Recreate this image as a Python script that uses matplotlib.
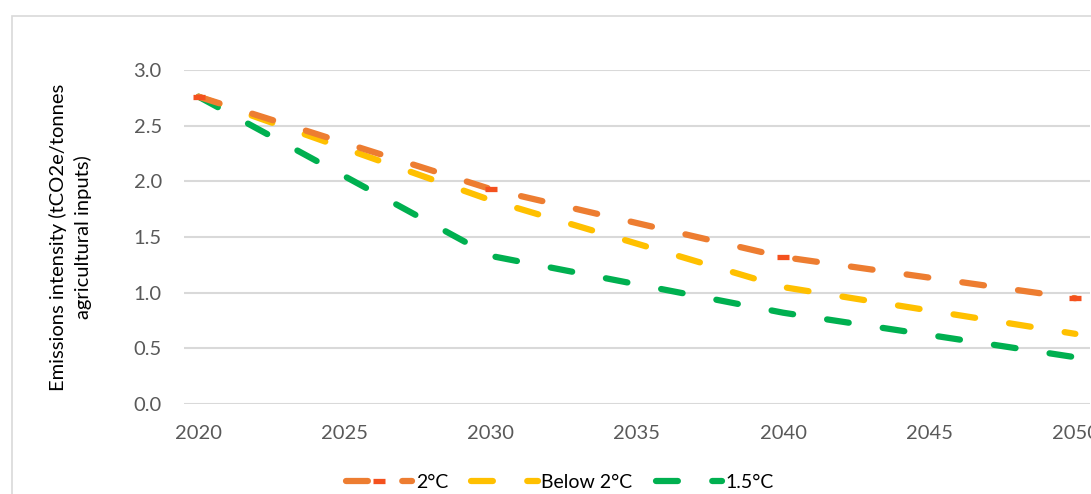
import matplotlib.pyplot as plt
from matplotlib.patches import Rectangle

plt.rcParams['font.family'] = ['Lato', 'DejaVu Sans']

# Emissions intensity pathways (tCO2e per tonne of agricultural inputs)
years = [2020, 2030, 2040, 2050]
two_deg = [2.76, 1.93, 1.32, 0.95]
below_two = [2.76, 1.83, 1.05, 0.63]
one_point_five = [2.76, 1.33, 0.82, 0.42]

xtick_years = [2020, 2025, 2030, 2035, 2040, 2045, 2050]
yticks = [0.0, 0.5, 1.0, 1.5, 2.0, 2.5, 3.0]

orange = "#ED7D31"
red = "#F4511E"
yellow = "#FFC000"
green = "#00B050"
grid = "#D9D9D9"
tick_col = "#595959"

W, H = 1091, 494
fig = plt.figure(figsize=(W / 100, H / 100), dpi=100)

# outer chart frame (runs off the right and bottom edges)
fig.patches.append(Rectangle((12 / W, -0.2), 1.2, 1.2 - 16 / H,
                             transform=fig.transFigure, fill=False,
                             edgecolor=grid, linewidth=1.2, clip_on=False))

ax = fig.add_axes([184 / W, 90 / H, 906 / W, 334 / H])

dash = dict(linewidth=4.5, dashes=(3.5, 5.5), dash_capstyle='round',
            solid_capstyle='round')
ax.plot(years, below_two, color=yellow, label="Below 2°C", zorder=3, **dash)
ax.plot(years, one_point_five, color=green, label="1.5°C", zorder=3, **dash)
ax.plot(years, two_deg, color=orange, zorder=4, marker='_',
        markersize=9, markeredgewidth=3.8, markeredgecolor=red,
        label="2°C", **dash)

ax.set_xlim(2019.5, 2050.5)
ax.set_ylim(0, 3.0)
ax.set_xticks(xtick_years)
ax.set_yticks(yticks)
ax.set_yticklabels([f"{v:.1f}" for v in yticks])
ax.tick_params(length=0, labelsize=14.5, labelcolor=tick_col)
ax.tick_params(axis='x', pad=15)
ax.tick_params(axis='y', pad=16)
ax.grid(axis='y', color=grid, linewidth=1.5)
ax.set_axisbelow(True)
for s in ax.spines.values():
    s.set_visible(False)

ax.set_ylabel("Emissions intensity (tCO2e/tonnes\nagricultural inputs)",
              fontsize=14.5, color="black", labelpad=30, linespacing=1.45)

handles, labels = ax.get_legend_handles_labels()
order = [2, 0, 1]
fig.legend([handles[i] for i in order], [labels[i] for i in order],
           loc='center', bbox_to_anchor=(560 / W, 1 - 482 / H), ncol=3,
           frameon=False, fontsize=14, handlelength=3.4, columnspacing=1.2,
           handletextpad=0.2)

fig.savefig("out.png", dpi=100)
